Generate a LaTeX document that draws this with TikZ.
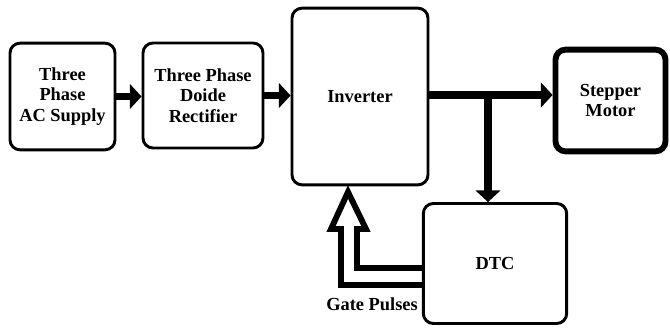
\documentclass[tikz,border=0pt]{standalone}
\usepackage{fontspec}
\setmainfont{Liberation Serif}
\usetikzlibrary{arrows.meta}

\tikzset{
  block/.style={draw, line width=2.5pt, rounded corners=0.3cm, align=center,
    font=\fontsize{15.7}{17.5}\selectfont\bfseries, inner sep=0pt},
  arr/.style={line width=6pt, -{Triangle[length=10pt,width=21pt]}},
  hollow/.style={line width=5pt, line join=miter}
}

\begin{document}
\begin{tikzpicture}[x=0.03cm, y=-0.03cm]
  \useasboundingbox (0,0) rectangle (670,327);
  % blocks
  \node (supply) at (62.5,96.5) [block, minimum width=3.15cm, minimum height=3.2cm] {Three\\Phase\\AC Supply};
  \node (rectifier) at (203,95.5) [block, minimum width=3.6cm, minimum height=3.15cm] {Three Phase\\Doide\\Rectifier};
  \node (inverter) at (360,96.5) [block, minimum width=4.08cm, minimum height=5.3cm] {Inverter};
  \node (motor) at (610.5,100.5) [block, line width=5pt, minimum width=3.3cm, minimum height=3.05cm] {Stepper\\Motor};
  \node (dtc) at (495,263.5) [block, minimum width=4.3cm, minimum height=3.6cm] {DTC};
  \coordinate (split) at (488,95);
  % connectors
  \draw [arr] (supply.east) -- (supply.east -| rectifier.west);
  \draw [arr] (rectifier.east) -- (rectifier.east -| inverter.west);
  \draw [arr] (inverter.east |- split) -- (split -| motor.west);
  \draw [line width=6pt] (split) -- ++(0,3);
  \draw [arr] (split) -- (split |- dtc.north);
  % gate pulses
  \draw [hollow] (dtc.west |- 0,285) -- (341,285) -- (341,229) -- (331,229) -- (348,192)
    -- (366,229) -- (357,229) -- (357,268) -- (dtc.west |- 0,268);
  \node (gate) at (372,304) [font=\fontsize{15.7}{17.5}\selectfont\bfseries] {Gate Pulses};
\end{tikzpicture}
\end{document}
